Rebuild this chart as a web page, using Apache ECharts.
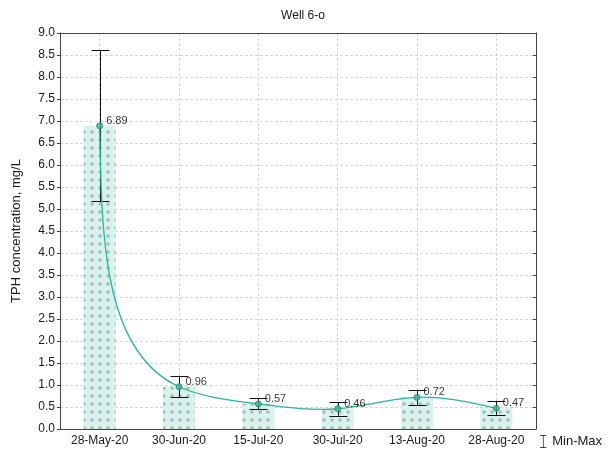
<!DOCTYPE html>
<html>
<head>
<meta charset="utf-8">
<script src="https://cdn.jsdelivr.net/npm/echarts@6/dist/echarts.min.js"></script>
<style>
  html, body { margin: 0; padding: 0; background: #fff; }
  #chart { width: 614px; height: 452px; }
</style>
</head>
<body>
<div id="chart"></div>
<script>
// Sampling dates and TPH concentrations (mg/L)
const dates = ['28-May-20', '30-Jun-20', '15-Jul-20', '30-Jul-20', '13-Aug-20', '28-Aug-20'];
const meanValues = [6.89, 0.96, 0.57, 0.46, 0.72, 0.47];
const minValues = [5.18, 0.72, 0.45, 0.30, 0.55, 0.32];
const maxValues = [8.61, 1.21, 0.70, 0.61, 0.89, 0.64];

const FONT = 'Liberation Sans, Arial, sans-serif';
const TEXT = '#1a1a1a';
const CURVE = '#2db39b';

// dotted fill used for the bars
function makeDotPattern() {
  const c = document.createElement('canvas');
  c.width = 8; c.height = 8;
  const g = c.getContext('2d');
  g.fillStyle = '#d8f2ee';
  g.fillRect(0, 0, 8, 8);
  g.fillStyle = '#a2b3b0';
  g.beginPath(); g.arc(4, 4, 1.7, 0, Math.PI * 2); g.fill();
  g.fillStyle = '#d8f2ee';
  g.fillRect(3.6, 3.6, 0.8, 0.8);
  return c;
}

// natural cubic spline through points parameterised by chord length,
// returned as cubic Bezier segments
function splineSegments(pts) {
  const n = pts.length;
  const t = [0];
  for (let i = 1; i < n; i++) {
    const dx = pts[i][0] - pts[i - 1][0], dy = pts[i][1] - pts[i - 1][1];
    t.push(t[i - 1] + Math.sqrt(dx * dx + dy * dy));
  }
  const h = [];
  for (let i = 0; i < n - 1; i++) h.push(t[i + 1] - t[i]);
  function secondDerivs(v) {
    const M = new Array(n).fill(0);
    const m = n - 2;
    if (m <= 0) return M;
    const a = [], b = [], c = [], d = [];
    for (let i = 1; i <= m; i++) {
      a.push(h[i - 1]);
      b.push(2 * (h[i - 1] + h[i]));
      c.push(h[i]);
      d.push(6 * ((v[i + 1] - v[i]) / h[i] - (v[i] - v[i - 1]) / h[i - 1]));
    }
    for (let i = 1; i < m; i++) {
      const w = a[i] / b[i - 1];
      b[i] -= w * c[i - 1];
      d[i] -= w * d[i - 1];
    }
    const x = new Array(m);
    x[m - 1] = d[m - 1] / b[m - 1];
    for (let i = m - 2; i >= 0; i--) x[i] = (d[i] - c[i] * x[i + 1]) / b[i];
    for (let i = 0; i < m; i++) M[i + 1] = x[i];
    return M;
  }
  const xs = pts.map(p => p[0]), ys = pts.map(p => p[1]);
  const Mx = secondDerivs(xs), My = secondDerivs(ys);
  const segs = [];
  for (let i = 0; i < n - 1; i++) {
    const hi = h[i];
    const d0x = (xs[i + 1] - xs[i]) / hi - hi * (2 * Mx[i] + Mx[i + 1]) / 6;
    const d0y = (ys[i + 1] - ys[i]) / hi - hi * (2 * My[i] + My[i + 1]) / 6;
    const d1x = (xs[i + 1] - xs[i]) / hi + hi * (Mx[i] + 2 * Mx[i + 1]) / 6;
    const d1y = (ys[i + 1] - ys[i]) / hi + hi * (My[i] + 2 * My[i + 1]) / 6;
    segs.push({
      x1: xs[i], y1: ys[i], x2: xs[i + 1], y2: ys[i + 1],
      cpx1: xs[i] + d0x * hi / 3, cpy1: ys[i] + d0y * hi / 3,
      cpx2: xs[i + 1] - d1x * hi / 3, cpy2: ys[i + 1] - d1y * hi / 3
    });
  }
  return segs;
}

const chart = echarts.init(document.getElementById('chart'), null, { renderer: 'canvas' });

const errorData = dates.map((d, i) => [i, minValues[i], maxValues[i]]);

const option = {
  animation: false,
  backgroundColor: '#fff',
  textStyle: { fontFamily: FONT },
  title: {
    text: 'Well 6-o',
    left: 298, top: 5, textAlign: 'center',
    textStyle: { fontFamily: FONT, fontSize: 12, fontWeight: 'normal', color: TEXT }
  },
  legend: {
    data: [{ name: 'Min-Max', icon: 'path://M0,0h10v1h-4.5v18h4.5v1h-10v-1h4.5v-18h-4.5z' }],
    left: 535, top: 430,
    itemWidth: 8, itemHeight: 13, itemGap: 4,
    textStyle: { fontFamily: FONT, fontSize: 13, color: TEXT },
    selectedMode: false
  },
  grid: { left: 60, right: 78, top: 33, bottom: 23 },
  xAxis: [{
    type: 'category',
    data: dates,
    position: 'bottom',
    axisLine: { lineStyle: { color: '#444', width: 1 } },
    axisTick: { inside: true, length: 3, alignWithLabel: true, lineStyle: { color: '#444' } },
    axisLabel: { fontFamily: FONT, fontSize: 12, color: TEXT, margin: 6 },
    splitLine: { show: true, alignWithLabel: true, lineStyle: { color: '#d6d6d6', type: [3, 2], width: 1 } }
  }, {
    type: 'category',
    data: dates,
    position: 'top',
    axisLine: { onZero: false, lineStyle: { color: '#444', width: 1 } },
    axisTick: { inside: true, length: 3, alignWithLabel: true, lineStyle: { color: '#444' } },
    axisLabel: { show: false },
    splitLine: { show: false }
  }],
  yAxis: [{
    type: 'value',
    min: 0, max: 9, interval: 0.5,
    name: 'TPH concentration, mg/L',
    nameLocation: 'middle',
    nameGap: 37,
    nameTextStyle: { fontFamily: FONT, fontSize: 13, color: TEXT },
    axisLine: { show: true, lineStyle: { color: '#444', width: 1 } },
    axisTick: { show: true, length: 3, lineStyle: { color: '#444' } },
    axisLabel: { fontFamily: FONT, fontSize: 12, color: TEXT, margin: 5, formatter: v => v.toFixed(1) },
    splitLine: { show: true, lineStyle: { color: '#d6d6d6', type: [3, 2], width: 1 } }
  }, {
    type: 'value',
    min: 0, max: 9, interval: 0.5,
    position: 'right',
    axisLine: { show: true, lineStyle: { color: '#444', width: 1 } },
    axisTick: { show: true, inside: true, length: 3, lineStyle: { color: '#444' } },
    axisLabel: { show: false },
    splitLine: { show: false }
  }],
  series: [
    {
      name: 'TPH',
      type: 'bar',
      data: meanValues,
      barWidth: 32,
      itemStyle: { color: { image: makeDotPattern(), repeat: 'repeat' } },
      z: 2
    },
    {
      name: 'Min-Max',
      type: 'custom',
      data: errorData,
      itemStyle: { color: '#111' },
      renderItem: function (params, api) {
        const i = api.value(0);
        const lo = api.coord([i, api.value(1)]);
        const hi = api.coord([i, api.value(2)]);
        const half = 9;
        const st = { stroke: '#111', lineWidth: 1, fill: null };
        const x = Math.round(lo[0]) + 0.5;
        return {
          type: 'group',
          children: [
            { type: 'line', shape: { x1: x, y1: hi[1], x2: x, y2: lo[1] }, style: st },
            { type: 'line', shape: { x1: x - half, y1: Math.round(hi[1]) + 0.5, x2: x + half, y2: Math.round(hi[1]) + 0.5 }, style: st },
            { type: 'line', shape: { x1: x - half, y1: Math.round(lo[1]) + 0.5, x2: x + half, y2: Math.round(lo[1]) + 0.5 }, style: st }
          ]
        };
      },
      z: 4
    },
    {
      name: 'Fit',
      type: 'custom',
      data: [0],
      renderItem: function (params, api) {
        const pts = meanValues.map((v, i) => api.coord([i, v]));
        const segs = splineSegments(pts);
        return {
          type: 'group',
          children: segs.map(s => ({
            type: 'bezierCurve',
            shape: s,
            style: { stroke: CURVE, lineWidth: 1.3, fill: null }
          }))
        };
      },
      z: 5
    },
    {
      name: 'Mean',
      type: 'scatter',
      data: meanValues.map((v, i) => [i, v]),
      symbol: 'circle',
      symbolSize: 6,
      itemStyle: { color: '#37b99a', borderColor: '#1b8a6c', borderWidth: 1 },
      label: {
        show: true,
        position: 'right',
        distance: 3,
        offset: [0, -5],
        fontFamily: FONT,
        fontSize: 11,
        color: '#000',
        textBorderWidth: 0,
        formatter: p => p.value[1].toFixed(2)
      },
      z: 6
    }
  ]
};

chart.setOption(option);
</script>
</body>
</html>
